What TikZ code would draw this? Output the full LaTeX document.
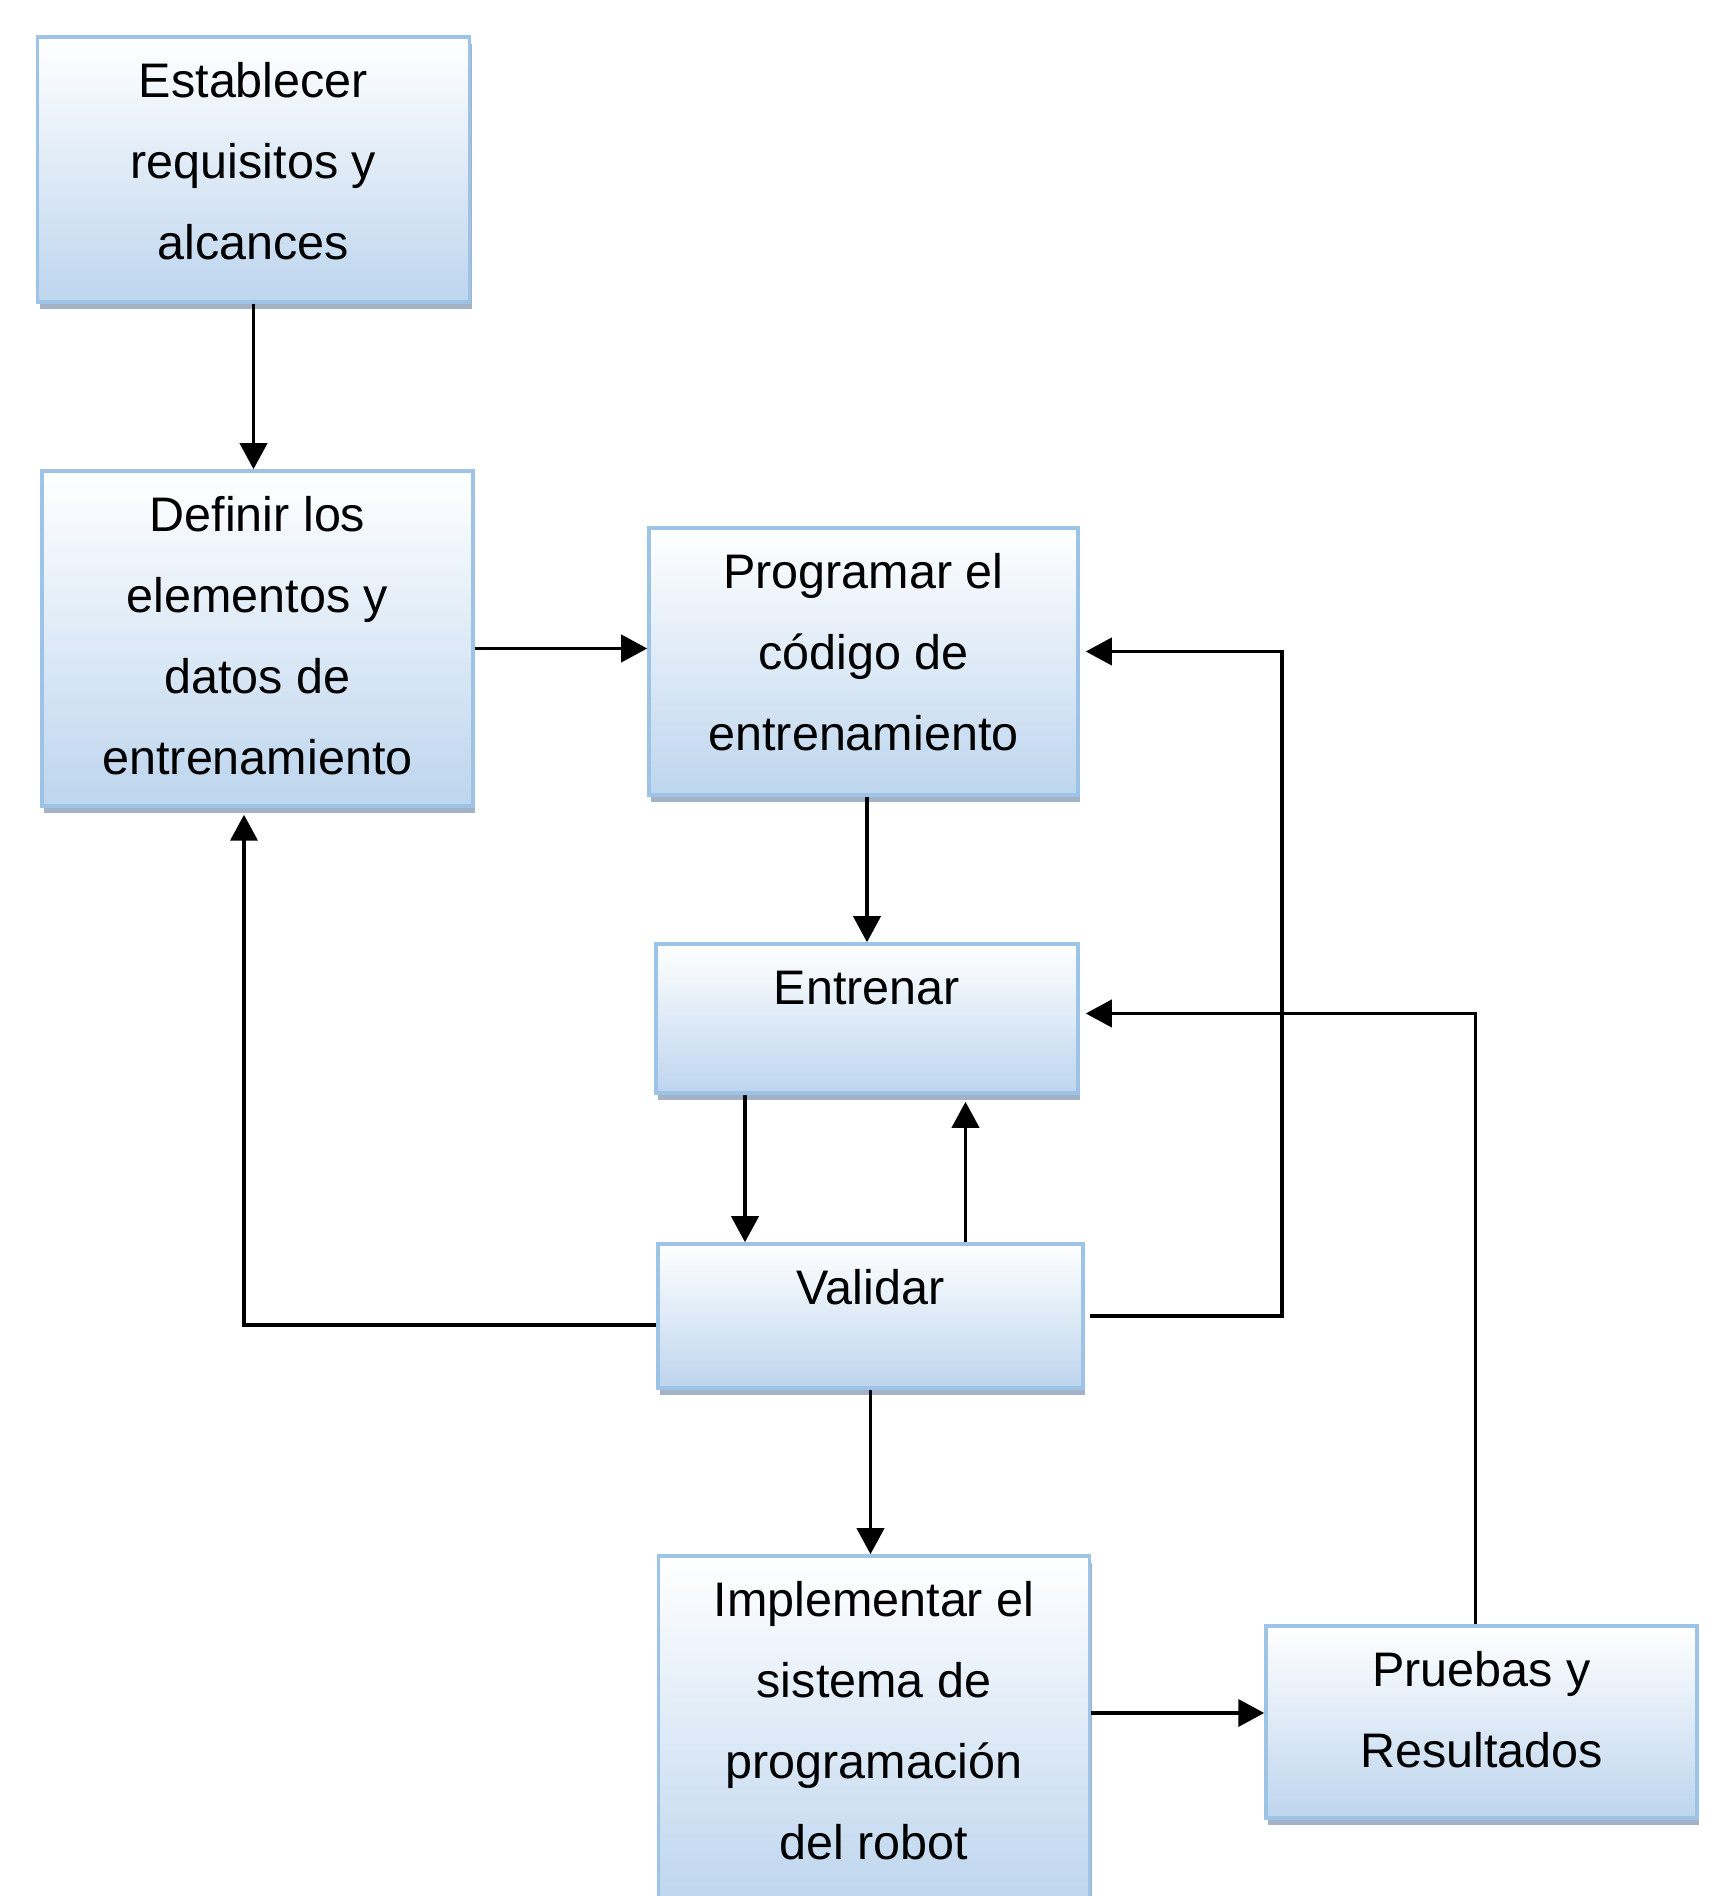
\documentclass[tikz,border=0pt]{standalone}
\usepackage{fontspec}
\setmainfont{Liberation Sans}
\usetikzlibrary{arrows.meta,shadows}
\definecolor{boxline}{RGB}{157,195,230}
\definecolor{boxblue}{RGB}{189,213,238}
\definecolor{boxshadow}{RGB}{163,178,196}
\newcommand{\flowtext}[3]{\parbox[c][#2][t]{#1}{\centering\rule{0pt}{0.61cm}#3}}

\begin{document}
\begin{tikzpicture}[
	flowbox/.style={draw=boxline, line width=1pt, top color=white, bottom color=boxblue, inner sep=0pt,
		font=\fontsize{13.8pt}{23pt}\selectfont,
		drop shadow={shadow xshift=0.02cm, shadow yshift=-0.07cm, fill=boxshadow, opacity=1}},
	flowarrow/.style={line width=1.1pt, -{Triangle[length=0.26cm, width=0.27cm]}}]
				\useasboundingbox (0,0) rectangle (17.12,18.96);

				% Steps
				\node[flowbox] (est) at (2.535,17.265) {\flowtext{4.32cm}{2.65cm}{Establecer\\requisitos y\\alcances}};
				\node[flowbox] (def) at (2.575,12.575) {\flowtext{4.31cm}{3.35cm}{Definir los\\elementos y\\datos de\\entrenamiento}};
				\node[flowbox] (prog) at (8.635,12.345) {\flowtext{4.29cm}{2.67cm}{Programar el\\código de\\entrenamiento}};
				\node[flowbox] (ent) at (8.67,8.775) {\flowtext{4.22cm}{1.49cm}{Entrenar}};
				\node[flowbox] (val) at (8.705,5.80) {\flowtext{4.25cm}{1.44cm}{Validar}};
				\node[flowbox] (impl) at (8.74,1.65) {\flowtext{4.31cm}{3.5cm}{Implementar el\\sistema de\\programación\\del robot}};
				\node[flowbox] (pru) at (14.815,1.74) {\flowtext{4.31cm}{1.92cm}{Pruebas y\\Resultados}};

				% Main flow
				\draw[flowarrow] (est.south) -- (est.south |- def.north);
				\draw[flowarrow] ([yshift=-1mm]def.east) -- ([yshift=-1mm]def.east -| prog.west);
				\draw[flowarrow] (prog.south -| ent.north) -- (ent.north);
				\draw[flowarrow] ([xshift=-1.22cm]ent.south) -- ([xshift=-1.22cm]ent.south |- val.north);
				\draw[flowarrow] (val.south) -- (val.south |- impl.north);
				\draw[flowarrow] ([yshift=0.9mm]pru.west -| impl.east) -- ([yshift=0.9mm]pru.west);

				% Feedback
				\draw[flowarrow, shorten >=0.07cm] ([xshift=0.95cm]val.north) -- ([xshift=0.95cm]val.north |- ent.south);
				\draw[flowarrow, shorten >=0.07cm] ([yshift=-0.9mm]val.west) -| ([xshift=-1.35mm]def.south);
				\draw[flowarrow, shorten <=0.05cm, shorten >=0.06cm] (val.east) -- ++(1.97,0) |- ([yshift=1mm]prog.east);
				\draw[flowarrow, shorten >=0.06cm] ([xshift=-0.6mm]pru.north) |- ([yshift=0.5mm]ent.east);
			\end{tikzpicture}
\end{document}
